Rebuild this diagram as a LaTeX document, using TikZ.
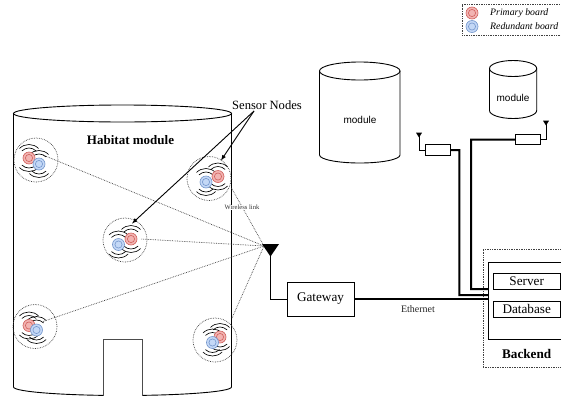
\documentclass[tikz,border=0pt]{standalone}
\usepackage{fontspec}
\setmainfont{Liberation Serif}
\setsansfont{Liberation Sans}
\usepackage{tikz}
\definecolor{boardred}{HTML}{F2B4B2}
\definecolor{boardredline}{HTML}{D0605C}
\definecolor{boardblue}{HTML}{C4D8F6}
\definecolor{boardblueline}{HTML}{7496CC}
\tikzset{
  wbox/.style={draw=black,fill=white,line width=0.9pt,rectangle},
  dotlink/.style={draw=black!75,densely dotted,line width=0.7pt},
  dotbox/.style={draw=black!75,densely dotted,line width=0.7pt},
  waves/.style={black,line width=0.65pt},
  wire/.style={black,line width=0.8pt},
  bus/.style={black,line width=2pt},
  redboard/.style={circle,draw=boardredline,fill=boardred,line width=0.6pt,minimum size=12pt},
  blueboard/.style={circle,draw=boardblueline,fill=boardblue,line width=0.6pt,minimum size=12pt},
  sensorring/.style={circle,dotlink,minimum size=44pt},
  ant/.style={fill=black}
}
% arcs round one board, then the board itself
\newcommand{\boardwaves}[2]{
  \draw [waves] (#1,#2) ++(45:10) arc (45:135:10);
  \draw [waves] (#1,#2) ++(45:13.5) arc (45:135:13.5);
  \draw [waves] (#1,#2) ++(225:10) arc (225:315:10);
  \draw [waves] (#1,#2) ++(225:13.5) arc (225:315:13.5);
}
\newcommand{\boardmark}[3]{
  \node [#1] (#2) at #3 {};
  \draw [#1,fill=none,minimum size=0pt] #3 circle (3.6);
}
\begin{document}
\begin{tikzpicture}[scale=0.035146]
\tikzstyle{every node}+=[inner sep=0pt]
\path [use as bounding box,clip] (0,0) rectangle (561,-395);
\fill [white] (0,0) rectangle (561,-395);

\draw [line width=0.9pt] (13.5,-113.5) -- (13.5,-387) arc (180:360:109 and 8.5) -- (231.5,-113.5);
\draw [line width=0.9pt] (122.5,-113.5) ellipse (109 and 8.5);
\node [wbox,draw=black!70,minimum width=39pt,minimum height=70pt] (door) at (122.5,-374) {};
\node [font=\fontsize{13}{14}\bfseries] (habitat) at (130.5,-140.5) {Habitat module};

\draw [line width=0.9pt] (319.5,-71) -- (319.5,-155) arc (180:360:40.25 and 8) -- (400,-71);
\draw [line width=0.9pt] (359.75,-71) ellipse (40.25 and 9);
\node [font=\fontsize{10}{11}\sffamily] (modulea) at (360,-120) {module};
\draw [line width=0.9pt] (489.5,-68.5) -- (489.5,-110.5) arc (180:360:23.6 and 8) -- (536.7,-68.5);
\draw [line width=0.9pt] (513.1,-68.5) ellipse (23.6 and 8);
\node [font=\fontsize{10}{11}\sffamily] (moduleb) at (513,-98) {module};

\node [sensorring] (s1) at (36,-160) {};
\node [sensorring] (s2) at (209,-178.5) {};
\node [sensorring] (s3) at (125,-240) {};
\node [sensorring] (s4) at (35,-326.5) {};
\node [sensorring] (s5) at (215,-340) {};

\coordinate (w1) at (43,-155);
\coordinate (w2) at (231.5,-188);
\coordinate (w3) at (141.5,-239);
\coordinate (w4) at (43,-321.5);
\coordinate (w5) at (232,-318);
\coordinate (antmain) at (264,-246);
\draw [dotlink] (w1) -- (antmain);
\draw [dotlink] (w2) -- (antmain);
\draw [dotlink] (w3) -- (antmain);
\draw [dotlink] (w4) -- (antmain);
\draw [dotlink] (w5) -- (antmain);
\node [fill=white,font=\fontsize{6.6}{7}\selectfont,inner sep=0.5pt,text=black!80] (wireless) at (242,-207.5) {Wireless link};

\boardwaves{29}{-158}
\boardwaves{39}{-164}
\boardwaves{218}{-176.5}
\boardwaves{206}{-182}
\boardwaves{131}{-239}
\boardwaves{118.5}{-244.5}
\boardwaves{29}{-325.5}
\boardwaves{36.5}{-330}
\boardwaves{220}{-337}
\boardwaves{212.5}{-342.5}

\boardmark{redboard}{r1}{(29,-158)}
\boardmark{blueboard}{b1}{(39,-164)}
\boardmark{redboard}{r2}{(218,-176.5)}
\boardmark{blueboard}{b2}{(206,-182)}
\boardmark{redboard}{r3}{(131,-239)}
\boardmark{blueboard}{b3}{(118.5,-244.5)}
\boardmark{redboard}{r4}{(29,-325.5)}
\boardmark{blueboard}{b4}{(36.5,-330)}
\boardmark{redboard}{r5}{(220,-337)}
\boardmark{blueboard}{b5}{(212.5,-342.5)}

\node [font=\fontsize{12.6}{14}\selectfont] (sensors) at (267,-105) {Sensor Nodes};
\coordinate (fork) at (254,-111);
\coordinate (hit2) at (221,-160.5);
\coordinate (hit3) at (132,-223.5);
\draw [line width=0.9pt,-latex] (fork) -- (hit2);
\draw [line width=0.9pt,-latex] (fork) -- (hit3);

\fill [ant] (262,-244) -- (279,-244) -- (270.5,-256.5) -- cycle;
\coordinate (mainfoot) at (270.5,-255);
\node [wbox,minimum width=67pt,minimum height=34pt,font=\fontsize{13.2}{14}\selectfont] (gateway) at (320.5,-299) {Gateway};
\draw [wire] (mainfoot) |- (gateway.west);

\node [dotbox,rectangle,minimum width=120pt,minimum height=118pt,anchor=north west] (backend) at (482.7,-249) {};
\node [wbox,minimum width=100pt,minimum height=77.5pt,anchor=north west] (rack) at (488,-261.7) {};
\node [wbox,minimum width=67pt,minimum height=16.5pt,anchor=north west] (serverbox) at (493.3,-272.7) {};
\node [wbox,minimum width=67pt,minimum height=16.5pt,anchor=north west] (databasebox) at (493.3,-300.7) {};
\node [font=\fontsize{13.2}{14}\selectfont] (server) at (526.7,-281) {Server};
\node [font=\fontsize{13.2}{14}\selectfont] (database) at (526.7,-309) {Database};
\node [font=\fontsize{13.2}{14}\bfseries] (backendlabel) at (526.7,-353.7) {Backend};

\draw [bus] (gateway.east) -- (rack.west |- gateway.east);
\node [font=\fontsize{10}{11}\selectfont,text=black!85] (ethernet) at (418,-308.7) {Ethernet};

\node [wbox,minimum width=25.5pt,minimum height=10.5pt] (radioa) at (438,-150) {};
\node [wbox,minimum width=25.5pt,minimum height=10.5pt] (radiob) at (528,-139.5) {};
\coordinate (antafoot) at (419,-136);
\coordinate (antbfoot) at (546,-124);
\fill [ant] (416,-132.7) -- (422,-132.7) -- (419,-137.5) -- cycle;
\fill [ant] (543,-120.7) -- (549,-120.7) -- (546,-125.5) -- cycle;
\draw [wire] (antafoot) |- (radioa.west);
\draw [wire] (antbfoot) |- (radiob.east);
\coordinate (busa) at (488,-295);
\coordinate (busb) at (488,-289);
\draw [bus] (radioa.east) -| (459.3,-295) -- (busa);
\draw [bus] (radiob.west) -| (471,-289) -- (busb);

\node [dotbox,rectangle,minimum width=120pt,minimum height=30.7pt,anchor=north west] (legend) at (462,-4.3) {};
\node [redboard] (legendred) at (472,-13) {};
\draw [redboard,fill=none,minimum size=0pt] (472,-13) circle (3.6);
\node [blueboard] (legendblue) at (472,-26.5) {};
\draw [blueboard,fill=none,minimum size=0pt] (472,-26.5) circle (3.6);
\node [anchor=west,font=\fontsize{9.8}{11}\itshape] (primary) at (490,-13) {Primary board};
\node [anchor=west,font=\fontsize{9.8}{11}\itshape] (redundant) at (490,-26.5) {Redundant board};
\end{tikzpicture}
\end{document}
